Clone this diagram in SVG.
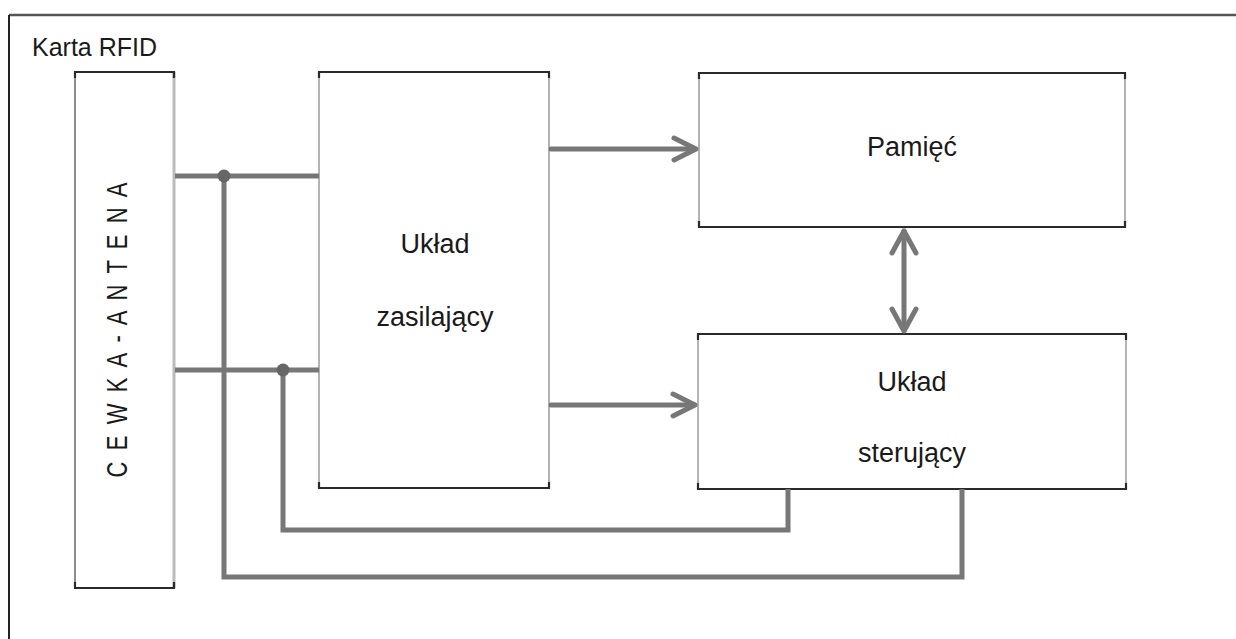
<svg xmlns="http://www.w3.org/2000/svg" width="1236" height="639" viewBox="0 0 1236 639">
  <defs>
    <style>
      .t { font-family: "Liberation Sans", Arial, sans-serif; fill: #1a1a1a; }
      .side { fill: #ffffff; stroke: #9a9a9a; stroke-width: 1.5; }
      .edge { fill: none; stroke: #2a2a2a; stroke-width: 2.2; }
      .wire { fill: none; stroke: #777777; stroke-width: 5; stroke-linejoin: miter; }
      .arr { fill: none; stroke: #777777; stroke-width: 5; stroke-linecap: round; stroke-linejoin: round; }
      .dot { fill: #666666; }
    </style>
  </defs>
  <rect x="0" y="0" width="1236" height="639" fill="#ffffff"/>

  <g id="frame">
    <line x1="9" y1="15" x2="1236" y2="15" stroke="#555555" stroke-width="2.5"/>
    <line x1="9" y1="15" x2="9" y2="639" stroke="#222222" stroke-width="2"/>
    <text class="t" x="32" y="56" font-size="25">Karta RFID</text>
  </g>

  <g id="antena">
    <rect x="75" y="72" width="99" height="516" fill="#ffffff" stroke="none"/>
    <line x1="75" y1="72" x2="75" y2="588" stroke="#666666" stroke-width="1.5"/>
    <line x1="174" y1="72" x2="174" y2="588" stroke="#bbbbbb" stroke-width="3"/>
    <path class="edge" d="M75,78 V72 H174 V78"/>
    <path class="edge" d="M75,582 V588 H174 V582"/>
    <text class="t" font-size="22" text-anchor="middle" textLength="295" lengthAdjust="spacing" transform="translate(127,330) rotate(-90) scale(1,1.35)" x="0" y="0">C E W K A - A N T E N A</text>
  </g>

  <g id="zasilajacy">
    <rect class="side" x="319" y="72" width="230" height="416"/>
    <path class="edge" d="M319,78 V72 H549 V78"/>
    <path class="edge" d="M319,482 V488 H549 V482"/>
    <text class="t" x="435" y="253" font-size="27" text-anchor="middle">Układ</text>
    <text class="t" x="435" y="326" font-size="27" text-anchor="middle">zasilający</text>
  </g>

  <g id="pamiec">
    <rect class="side" x="699" y="73" width="426" height="154"/>
    <path class="edge" d="M699,79 V73 H1125 V79"/>
    <path class="edge" d="M699,221 V227 H1125 V221"/>
    <text class="t" x="912" y="156" font-size="27" text-anchor="middle">Pamięć</text>
  </g>

  <g id="sterujacy">
    <rect class="side" x="698" y="334" width="428" height="155"/>
    <path class="edge" d="M698,340 V334 H1126 V340"/>
    <path class="edge" d="M698,483 V489 H1126 V483"/>
    <text class="t" x="912" y="391" font-size="27" text-anchor="middle">Układ</text>
    <text class="t" x="912" y="462" font-size="27" text-anchor="middle">sterujący</text>
  </g>

  <g id="connectors">
    <polyline class="wire" points="175,176 319,176"/>
    <polyline class="wire" points="224,176 224,577 962,577 962,489"/>
    <polyline class="wire" points="175,370 319,370"/>
    <polyline class="wire" points="283,370 283,530 788,530 788,489"/>
    <circle class="dot" cx="224" cy="176" r="6.5"/>
    <circle class="dot" cx="283" cy="370" r="6.5"/>

    <line class="arr" x1="551" y1="149" x2="695" y2="149"/>
    <polyline class="arr" points="674,138 696,149 674,160"/>

    <line class="arr" x1="551" y1="405" x2="694" y2="405"/>
    <polyline class="arr" points="673,394 695,405 673,416"/>

    <line class="arr" x1="904" y1="231" x2="904" y2="330"/>
    <polyline class="arr" points="892,253 904,231 916,253"/>
    <polyline class="arr" points="892,309 904,331 916,309"/>
  </g>
</svg>
